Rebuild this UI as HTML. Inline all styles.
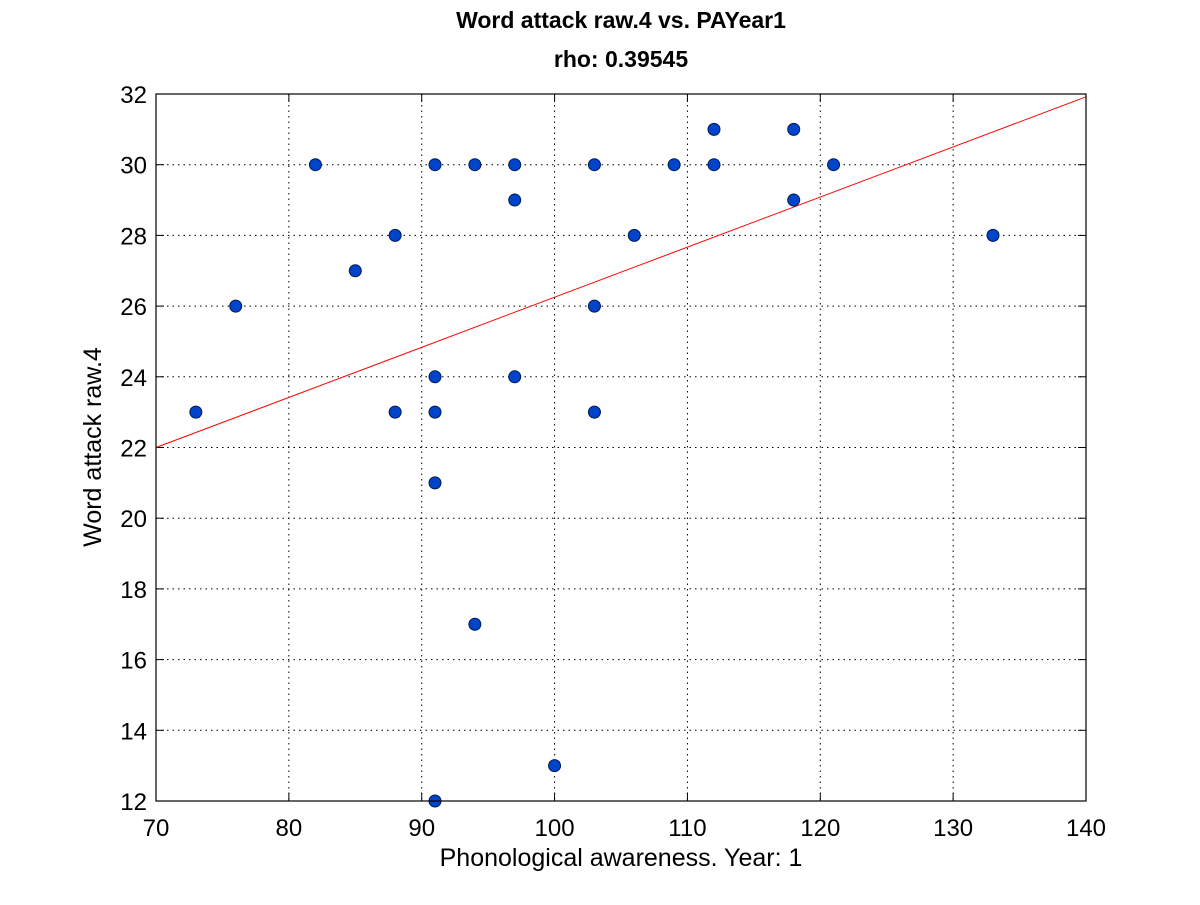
<!DOCTYPE html>
<html><head><meta charset="utf-8"><style>
body{margin:0;background:#fff;}
svg text{font-family:"Liberation Sans",sans-serif;}
</style></head><body>
<svg id="chart" width="1200" height="900">
<rect width="1200" height="900" fill="#fff"/>
<text x="621" y="28" text-anchor="middle" font-size="23" font-weight="bold">Word attack raw.4 vs. PAYear1</text>
<text x="621" y="67" text-anchor="middle" font-size="23" font-weight="bold">rho: 0.39545</text>
<g id="grid"></g>
<g id="ticks"></g>
<g id="fit"></g>
<g id="points"></g>
<rect x="156" y="94" width="930" height="707" fill="none" stroke="#000" stroke-width="1.2"/>
<text x="621" y="866" text-anchor="middle" font-size="25">Phonological awareness. Year: 1</text>
<text transform="translate(101,447) rotate(-90)" text-anchor="middle" font-size="25">Word attack raw.4</text>
</svg>
<script>
const xVals=[73,76,82,85,88,88,91,91,91,91,91,94,94,97,97,97,100,103,103,103,106,109,112,112,118,118,121,133];
const yVals=[23,26,30,27,28,23,30,24,23,21,12,30,17,30,29,24,13,30,26,23,28,30,31,30,31,29,30,28];
const xTicks=[70,80,90,100,110,120,130,140];
const yTicks=[12,14,16,18,20,22,24,26,28,30,32];
const fitX=[70,140];
const fitY=[22.0,31.92];
const X0=156,X1=1086,Y0=801,Y1=94;
const sx=v=>X0+(v-70)/70*(X1-X0);
const sy=v=>Y0-(v-12)/20*(Y0-Y1);
const NS="http://www.w3.org/2000/svg";
function mk(tag,attrs,parent){const e=document.createElementNS(NS,tag);for(const k in attrs)e.setAttribute(k,attrs[k]);document.getElementById(parent).appendChild(e);return e;}
xTicks.forEach(t=>{
  const x=sx(t);
  if(t>70&&t<140){const g=mk('line',{x1:x,x2:x,y1:Y1,y2:Y0,stroke:'#000','stroke-dasharray':'1.5,4','stroke-width':1},'grid');
  
  }
  mk('line',{x1:x,x2:x,y1:Y0,y2:Y0-8,stroke:'#000'},'ticks');
  mk('line',{x1:x,x2:x,y1:Y1,y2:Y1+8,stroke:'#000'},'ticks');
  const l=mk('text',{x:x,y:Y0+35,'text-anchor':'middle','font-size':24},'ticks');l.textContent=t;
  
  
});
yTicks.forEach(t=>{
  const y=sy(t);
  if(t>12&&t<32){const g=mk('line',{x1:X0,x2:X1,y1:y,y2:y,stroke:'#000','stroke-dasharray':'1.5,4','stroke-width':1},'grid');
  
  }
  mk('line',{x1:X0,x2:X0+8,y1:y,y2:y,stroke:'#000'},'ticks');
  mk('line',{x1:X1,x2:X1-8,y1:y,y2:y,stroke:'#000'},'ticks');
  const l=mk('text',{x:X0-9,y:y+9,'text-anchor':'end','font-size':24},'ticks');l.textContent=t;
  
  
});
const fl=mk('line',{x1:sx(fitX[0]),y1:sy(fitY[0]),x2:sx(fitX[1]),y2:sy(fitY[1]),stroke:'#ff0000','stroke-width':1},'fit');


xVals.forEach((v,i)=>{
  const c=mk('circle',{cx:sx(v),cy:sy(yVals[i]),r:6,fill:'#0044cc',stroke:'#001a4d','stroke-width':1},'points');
  
  
});
</script>
</body></html>
